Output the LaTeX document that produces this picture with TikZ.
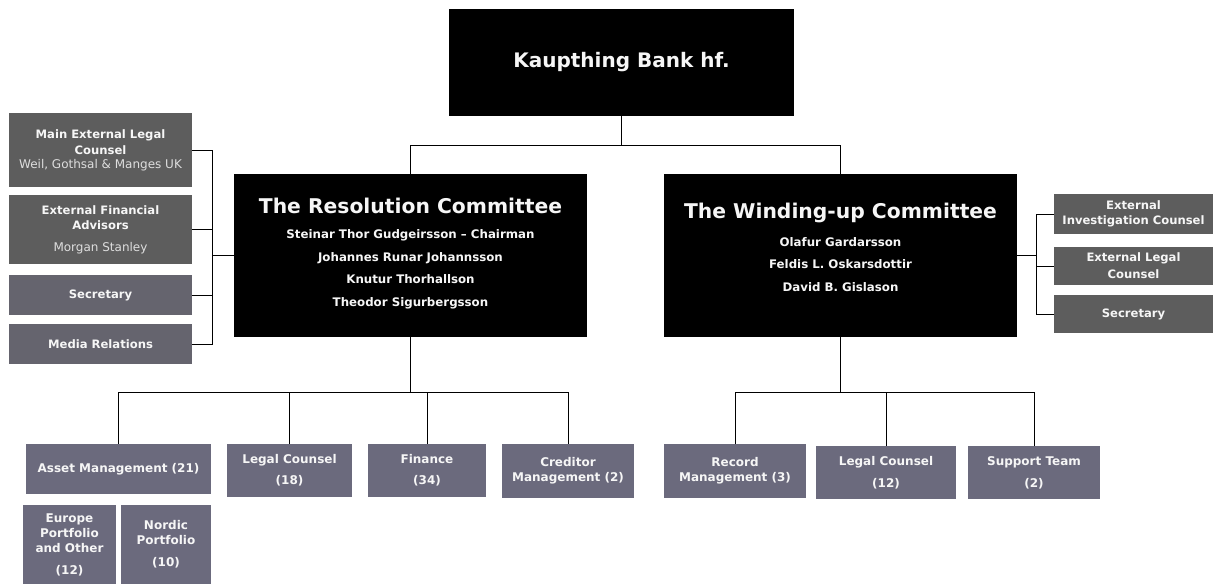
\documentclass[tikz,border=0pt]{standalone}
\usepackage{fontspec}
\setmainfont{DejaVu Sans}
\usepackage{tikz}
\definecolor{darkGrey}{RGB}{93,93,93}
\definecolor{slateGrey}{RGB}{101,100,110}
\definecolor{blueGrey}{RGB}{107,106,125}
\definecolor{boxText}{RGB}{246,246,246}
\definecolor{subText}{RGB}{222,222,222}

\begin{document}
\begin{tikzpicture}[x=1pt, y=-1pt,
            every node/.style={inner sep=0pt, outer sep=0pt, align=center, text=boxText}]
            \tikzstyle{headStyle} = [fill=black, font=\bfseries\fontsize{20}{24}\selectfont]
            \tikzstyle{committeeStyle} = [fill=black, minimum width=353pt, minimum height=163pt,
                                          font=\bfseries\fontsize{11.8}{22.5}\selectfont]
            \tikzstyle{sideStyle} = [fill=darkGrey, font=\bfseries\fontsize{11.6}{15}\selectfont]
            \tikzstyle{unitStyle} = [fill=blueGrey, font=\bfseries\fontsize{12}{15}\selectfont]
            \tikzstyle{blackEdge} = [draw=black, line width=1]
            \tikzstyle{thickEdge} = [draw=black, line width=1.6]
            \useasboundingbox (0,0) rectangle (1214,583);
            % top and committees
            \node[headStyle, minimum width=345pt, minimum height=107pt] (top) at (621.5,62.5)
                {Kaupthing Bank hf.};
            \node[committeeStyle] (res) at (410.5,255.5)
                {{\fontsize{20.3}{22}\selectfont The Resolution Committee}\\[3pt]
                 Steinar Thor Gudgeirsson -- Chairman\\
                 Johannes Runar Johannsson\\
                 Knutur Thorhallson\\
                 Theodor Sigurbergsson\\[-16pt]\mbox{}};
            \node[committeeStyle] (wind) at (840.5,255.5)
                {{\fontsize{20.3}{22}\selectfont The Winding-up Committee}\\[5pt]
                 Olafur Gardarsson\\
                 Feldis L. Oskarsdottir\\
                 David B. Gislason\\[-6pt]\mbox{}};
            % advisers of the resolution committee
            \node[sideStyle, minimum width=183pt, minimum height=74pt] (mainLegal) at (100.5,150)
                {Main External Legal\\[1pt] Counsel\\[-1pt]
                 {\mdseries\fontsize{12}{15}\selectfont\color{subText}Weil, Gothsal \& Manges UK}};
            \node[sideStyle, minimum width=183pt, minimum height=69pt] (finAdvisors) at (100.5,229.5)
                {External Financial\\ Advisors\\[7pt]
                 {\mdseries\fontsize{12}{15}\selectfont\color{subText}Morgan Stanley}};
            \node[sideStyle, fill=slateGrey, minimum width=183pt, minimum height=40pt] (resSecretary) at (100.5,295) {Secretary};
            \node[sideStyle, fill=slateGrey, minimum width=183pt, minimum height=40pt] (mediaRel) at (100.5,344) {Media Relations};
            % advisers of the winding-up committee
            \node[sideStyle, minimum width=159pt, minimum height=40pt] (investCounsel) at (1133.5,214)
                {External\\ Investigation Counsel};
            \node[sideStyle, minimum width=159pt, minimum height=38pt] (extLegal) at (1133.5,266)
                {External Legal\\[2pt] Counsel};
            \node[sideStyle, minimum width=159pt, minimum height=38pt] (windSecretary) at (1133.5,314) {Secretary};
            % units
            \node[unitStyle, minimum width=185pt, minimum height=50pt] (assetMgmt) at (118.5,469)
                {Asset Management (21)};
            \node[unitStyle, minimum width=125pt, minimum height=53pt] (resLegal) at (289.5,470.5)
                {Legal Counsel\\[6pt] (18)};
            \node[unitStyle, minimum width=118pt, minimum height=53pt] (finance) at (427,470.5)
                {Finance\\[6pt] (34)};
            \node[unitStyle, minimum width=132pt, minimum height=54pt] (creditorMgmt) at (568,471)
                {Creditor\\ Management (2)};
            \node[unitStyle, minimum width=93pt, minimum height=79pt] (europePort) at (69.5,544.5)
                {Europe\\ Portfolio\\ and Other\\[7pt] (12)};
            \node[unitStyle, minimum width=90pt, minimum height=79pt] (nordicPort) at (166,544.5)
                {Nordic\\ Portfolio\\[7pt] (10)};
            \node[unitStyle, minimum width=142pt, minimum height=54pt] (recordMgmt) at (735,471)
                {Record\\ Management (3)};
            \node[unitStyle, minimum width=140pt, minimum height=53pt] (windLegal) at (886,472.5)
                {Legal Counsel\\[7pt] (12)};
            \node[unitStyle, minimum width=132pt, minimum height=53pt] (supportTeam) at (1034,472.5)
                {Support Team\\[7pt] (2)};
            % joints
            \coordinate (topJoin) at (621.5,145);
            \coordinate (leftJoin) at (212,255.5);
            \coordinate (rightJoin) at (1036,255.5);
            \coordinate (resJoin) at (410.5,392);
            \coordinate (windJoin) at (840.5,392);
            % connectors
            \path[blackEdge] (top) -- (topJoin);
            \foreach \to in {res,wind}
                \path[blackEdge] (topJoin) -| (\to.north);
            \path[thickEdge] (res.west) -- (leftJoin);
            \foreach \to in {mainLegal,finAdvisors,resSecretary,mediaRel}
                \path[blackEdge] (leftJoin) |- (\to.east);
            \path[thickEdge] (wind.east) -- (rightJoin);
            \foreach \to in {investCounsel,extLegal,windSecretary}
                \path[blackEdge] (rightJoin) |- (\to.west);
            \path[thickEdge] (res.south) -- (resJoin);
            \foreach \to in {assetMgmt,resLegal,finance,creditorMgmt}
                \path[blackEdge] (resJoin) -| (\to.north);
            \path[thickEdge] (wind.south) -- (windJoin);
            \foreach \to in {recordMgmt,windLegal,supportTeam}
                \path[blackEdge] (windJoin) -| (\to.north);
        \end{tikzpicture}
\end{document}
